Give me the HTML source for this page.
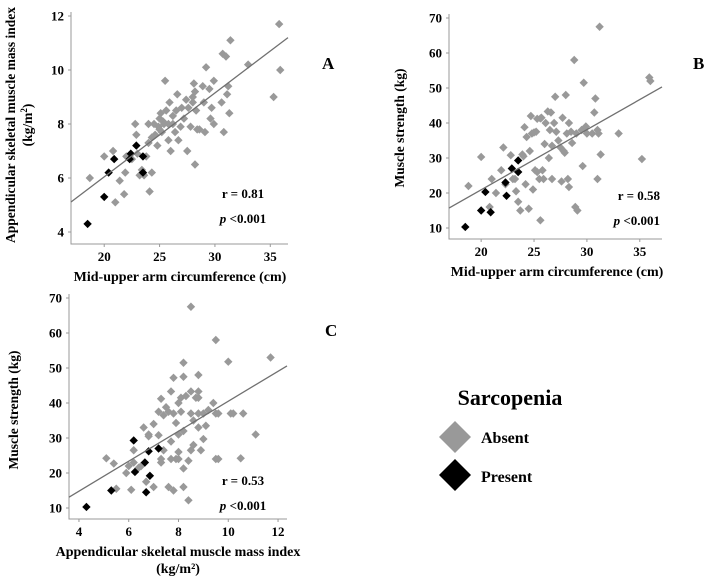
<!DOCTYPE html>
<html><head><meta charset="utf-8"><style>
body{margin:0;background:#fff;width:709px;height:578px;overflow:hidden}
svg{font-family:"Liberation Serif",serif;font-weight:bold}
</style></head><body>
<svg id="s" width="709" height="578" viewBox="0 0 709 578">
<g>
<text x="510" y="405" font-size="22" text-anchor="middle">Sarcopenia</text>
<polygon points="455,421 471,437 455,453 439,437" fill="#999"/>
<text x="481" y="443" font-size="16">Absent</text>
<polygon points="455,459 471,475 455,491 439,475" fill="#000"/>
<text x="481" y="482" font-size="16">Present</text>
</g>
</svg>
<script>
// Panel A: MUAC vs ASMI
const aAbsent=[[18.7,6.0],[20.0,6.8],[20.8,7.0],[21.0,5.1],[21.4,5.9],[21.8,5.4],[21.9,6.2],[22.5,6.7],[22.8,8.0],[22.9,7.6],[23.0,6.9],[23.2,6.1],[23.4,6.3],[23.6,6.1],[23.8,6.8],[24.0,7.3],[24.1,5.5],[24.3,6.2],[24.3,7.5],[24.5,8.0],[24.6,7.6],[24.8,7.2],[24.9,7.9],[25.0,8.2],[25.1,8.4],[25.2,7.7],[25.3,8.1],[25.4,8.0],[25.5,9.6],[25.6,8.5],[25.8,7.4],[25.9,8.8],[26.0,7.0],[26.2,8.3],[26.4,7.7],[26.5,8.5],[26.6,9.1],[26.7,7.4],[26.9,7.9],[27.0,8.6],[27.2,8.2],[27.4,8.9],[27.6,8.6],[27.8,7.9],[28.0,9.0],[28.1,9.5],[28.2,9.2],[28.3,8.5],[28.4,7.8],[28.2,6.5],[28.6,7.8],[28.9,9.4],[29.0,8.8],[29.2,10.1],[29.1,7.7],[29.5,9.3],[29.6,8.2],[29.7,8.6],[29.9,9.6],[29.9,8.0],[30.6,8.8],[30.7,10.6],[30.8,7.7],[31.1,9.1],[31.0,10.5],[31.2,9.4],[31.3,8.4],[31.4,11.1],[33.0,10.2],[35.3,9.0],[35.8,11.7],[35.9,10.0],[25.8,8.0],[24.0,8.0],[22.0,6.8],[27.5,7.0],[26.2,8.0],[25.0,7.8],[28.0,8.8]];
const aPresent=[[18.5,4.3],[20.0,5.3],[20.4,6.2],[20.9,6.7],[22.3,6.7],[22.4,6.9],[22.9,7.2],[23.5,6.8],[23.5,6.2]];
const aFit=[[17.0,5.11],[36.6,11.2]];
const aXTicks=[20,25,30,35];
const aYTicks=[4,6,8,10,12];
// Panel B: MUAC vs strength
const bAbsent=[[18.8,22],[20.0,30.3],[20.8,16],[21.0,24],[21.4,20],[21.9,26.5],[22.1,33],[22.3,22.5],[22.8,30.8],[23.0,24],[23.2,24],[23.3,20.5],[23.5,17.5],[23.7,15],[23.9,31],[24.0,30.5],[24.1,38.8],[24.2,22.5],[24.3,36],[24.5,15.5],[24.6,32],[24.7,42],[24.8,37],[24.9,21],[25.0,37.3],[25.1,26.5],[25.2,37.5],[25.3,26],[25.5,24],[25.6,41.3],[25.6,12.2],[25.7,41.5],[25.8,26.5],[25.9,24],[26.0,34],[26.3,43.3],[26.4,30],[26.5,38],[26.6,43],[26.7,24],[26.7,33.5],[26.9,40],[27.0,47.5],[27.1,37.5],[27.3,35],[27.5,33],[27.6,23.3],[27.7,41.5],[27.8,32],[27.9,31.5],[28.0,48],[28.1,37],[28.2,24],[28.3,40],[28.3,21.7],[28.5,37.5],[28.6,34.3],[28.8,58],[28.9,16],[29.0,37],[29.1,15],[29.5,38],[29.6,27.7],[29.7,51.5],[29.9,39],[30.0,37],[30.5,37],[30.7,43],[30.8,47],[31.0,24],[31.0,38],[31.1,37],[31.2,67.5],[31.3,31],[33.0,37],[35.2,29.7],[35.9,53],[36.0,52],[25.3,41.2],[26.1,40]];
const bPresent=[[18.5,10.3],[20.0,15],[20.4,20.3],[20.9,14.5],[22.3,23],[22.4,19.2],[22.9,27],[23.5,29.3],[23.5,26]];
const bFit=[[16.96,15.7],[37.1,50.3]];
const bXTicks=[20,25,30,35];
const bYTicks=[10,20,30,40,50,60,70];
// Panel C: ASMI vs strength
const cAbsent=[[5.1,24.2],[5.4,22.7],[5.5,15.5],[5.9,20],[6.0,22],[6.1,15.2],[6.2,26.5],[6.2,23],[6.4,21.5],[6.5,22],[6.6,33],[6.7,17.5],[6.8,31],[6.8,30.5],[7.0,34],[7.0,16],[7.2,37.5],[7.2,30.8],[7.3,24],[7.3,41.2],[7.3,23],[7.4,36.5],[7.4,26.5],[7.5,38.8],[7.6,16],[7.6,37.5],[7.7,43.3],[7.7,29],[7.7,24],[7.8,47.2],[7.8,15],[7.8,37],[7.9,24],[7.9,34.3],[8.0,40],[8.0,31],[8.0,26],[8.0,24],[8.1,37.5],[8.1,41.5],[8.2,21.3],[8.2,32],[8.2,16],[8.2,51.5],[8.2,47.5],[8.3,42],[8.4,23.5],[8.4,12.2],[8.5,67.5],[8.5,43.3],[8.5,37],[8.5,26.5],[8.6,28],[8.6,35],[8.7,41.5],[8.8,41.5],[8.8,37],[8.8,48],[8.8,43.3],[8.8,33],[8.9,26.5],[9.0,37],[9.0,29.7],[9.1,33.5],[9.2,38],[9.4,40],[9.5,58],[9.5,37],[9.5,24],[9.6,24],[9.6,37],[10.0,51.8],[10.1,37],[10.2,37],[10.5,24.2],[10.6,37],[11.1,31],[11.7,53]];
const cPresent=[[4.3,10.3],[5.3,15],[6.2,29.3],[6.25,20.3],[6.65,23],[6.7,14.5],[6.8,26.2],[6.85,19.2],[7.2,27]];
const cFit=[[3.6,13.1],[12.36,50.6]];
const cXTicks=[4,6,8,10,12];
const cYTicks=[10,20,30,40,50,60,70];

const NS='http://www.w3.org/2000/svg';
const svg=document.getElementById('s');
function mk(tag,attrs,parent){const e=document.createElementNS(NS,tag);for(const k in attrs)e.setAttribute(k,attrs[k]);(parent||svg).appendChild(e);return e;}

function panel(cfg){
  const g=mk('g',{});
  
  
  const sx=v=>cfg.x0+(v-cfg.xmin)/(cfg.xmax-cfg.xmin)*(cfg.x1-cfg.x0);
  const sy=v=>cfg.y0-(v-cfg.ymin)/(cfg.ymax-cfg.ymin)*(cfg.y0-cfg.y1);
  const ax=mk('path',{d:`M${cfg.x0},${cfg.y1-4}V${cfg.y0}H${cfg.x1}`,fill:'none',stroke:'#999','stroke-width':1},g);
  
  
  cfg.xt.forEach(t=>{
    mk('line',{x1:sx(t),x2:sx(t),y1:cfg.y0,y2:cfg.y0+3,stroke:'#999'},g);
    const tx=mk('text',{x:sx(t),y:cfg.y0+17,'font-size':13,'text-anchor':'middle'},g);
    tx.textContent=t;
    
    
  });
  cfg.yt.forEach(t=>{
    mk('line',{x1:cfg.x0-3,x2:cfg.x0,y1:sy(t),y2:sy(t),stroke:'#999'},g);
    const tx=mk('text',{x:cfg.x0-7,y:sy(t)+4.5,'font-size':13,'text-anchor':'end'},g);
    tx.textContent=t;
    
    
  });
  const dia=(arr,col,name)=>arr.forEach(p=>{
    const x=sx(p[0]),y=sy(p[1]),r=4.2;
    const d=mk('polygon',{points:`${x},${y-r} ${x+r},${y} ${x},${y+r} ${x-r},${y}`,fill:col},g);
    
    
  });
  dia(cfg.abs,'#999','point-absent');
  dia(cfg.pre,'#000','point-present');
  const f=cfg.fit;
  const ln=mk('line',{x1:sx(f[0][0]),y1:sy(f[0][1]),x2:sx(f[1][0]),y2:sy(f[1][1]),stroke:'#707070','stroke-width':1.3},g);
  
  
  const r=mk('text',{x:cfg.rx,y:cfg.ry,'font-size':13,'text-anchor':cfg.anchor},g);
  r.textContent=cfg.r;
  
  
  const p=mk('text',{x:cfg.rx,y:cfg.ry+25,'font-size':13,'text-anchor':cfg.anchor},g);
  p.innerHTML='<tspan font-style="italic">p</tspan> &lt;0.001';
  
  
  const L=mk('text',{x:cfg.lx,y:cfg.ly,'font-size':17},g);
  L.textContent=cfg.id;
  
  
  cfg.xtitle.forEach((s,i)=>{
    const t=mk('text',{x:cfg.xtx,y:cfg.y0+37+i*17,'font-size':14,'text-anchor':'middle'},g);
    t.textContent=s;
    
    
  });
  cfg.ytitle.forEach((s,i)=>{
    const t=mk('text',{x:0,y:0,'font-size':13.5,'text-anchor':'middle',transform:`translate(${cfg.ytx+i*17},${cfg.yty}) rotate(-90)`},g);
    t.innerHTML=s;
    
    
  });
}
panel({id:'A',x0:71,x1:288,y0:244,y1:16,xmin:17.0,xmax:36.6,ymin:3.556,ymax:12,xt:aXTicks,yt:aYTicks,abs:aAbsent,pre:aPresent,fit:aFit,r:'r = 0.81',rx:243,ry:198,anchor:'middle',lx:322,ly:69,xtitle:['Mid-upper arm circumference (cm)'],xtx:180,ytitle:['Appendicular skeletal muscle mass index','(kg/m<tspan baseline-shift="super" font-size="9">2</tspan>)'],ytx:15,yty:125});
panel({id:'B',x0:449,x1:662,y0:239,y1:18,xmin:16.96,xmax:37.1,ymin:6.86,ymax:70,xt:bXTicks,yt:bYTicks,abs:bAbsent,pre:bPresent,fit:bFit,r:'r = 0.58',rx:660,ry:200,anchor:'end',lx:693,ly:69,xtitle:['Mid-upper arm circumference (cm)'],xtx:557,ytitle:['Muscle strength  (kg)'],ytx:404,yty:128});
panel({id:'C',x0:69,x1:287,y0:519,y1:298,xmin:3.6,xmax:12.36,ymin:6.86,ymax:70,xt:cXTicks,yt:cYTicks,abs:cAbsent,pre:cPresent,fit:cFit,r:'r = 0.53',rx:243,ry:485,anchor:'middle',lx:325,ly:336,xtitle:['Appendicular  skeletal muscle mass index','(kg/m\u00b2)'],xtx:178,ytitle:['Muscle strength  (kg)'],ytx:18,yty:410});
</script>
</body></html>
